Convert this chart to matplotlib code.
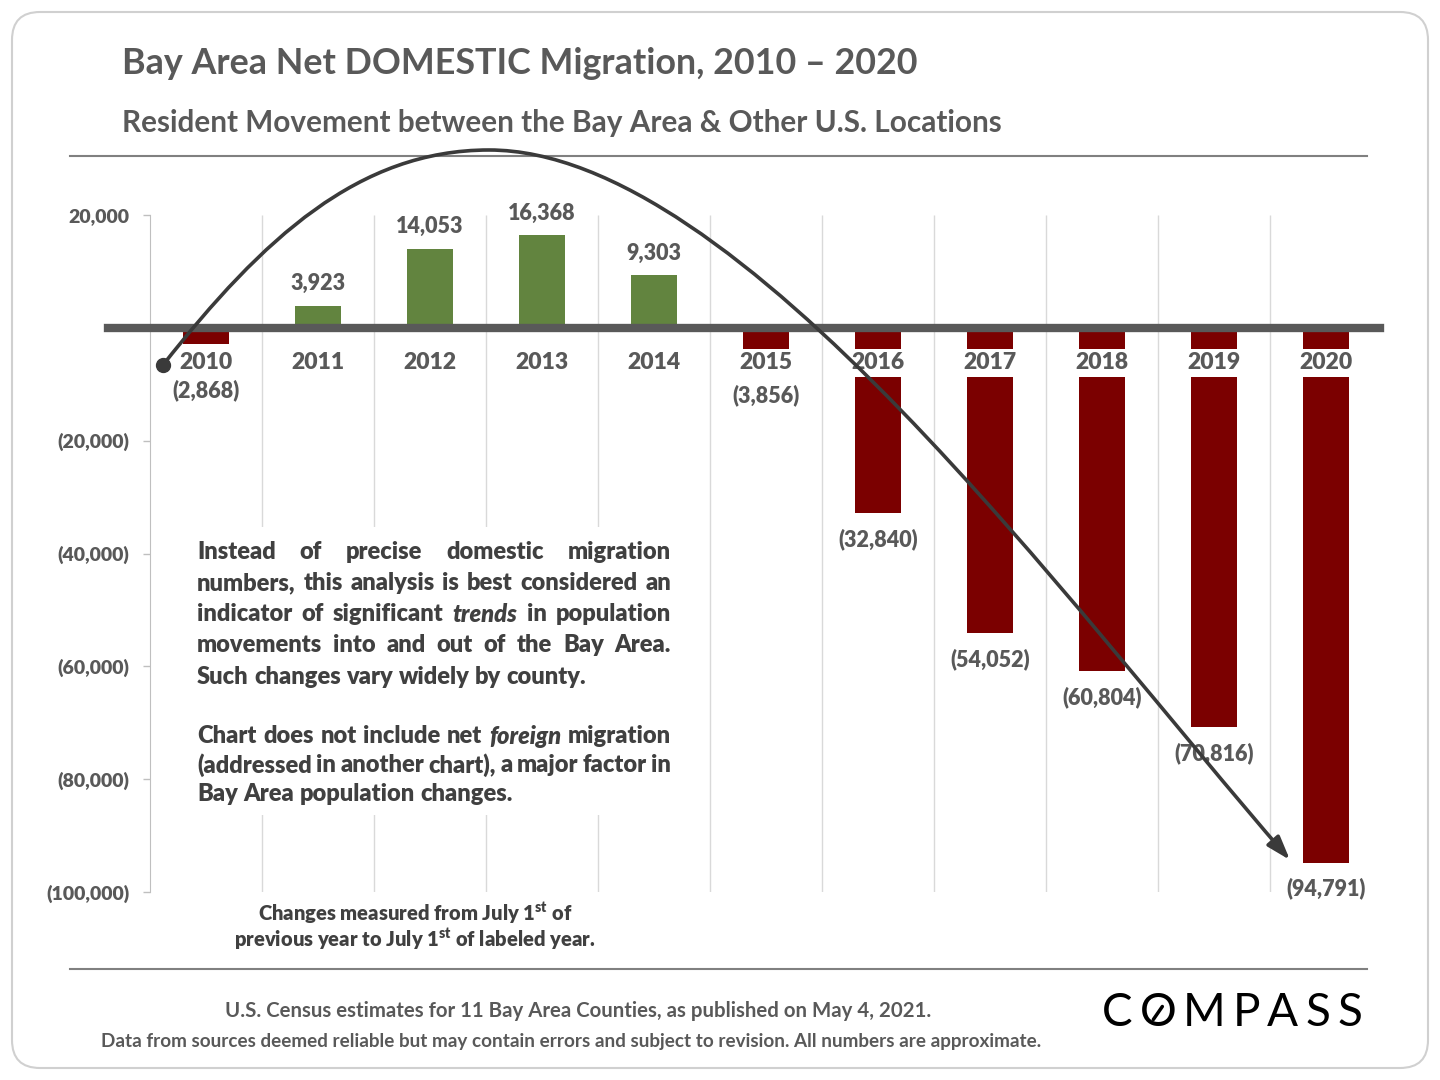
import matplotlib.pyplot as plt
import numpy as np
from matplotlib.patches import FancyBboxPatch, Rectangle, FancyArrowPatch, ArrowStyle
from matplotlib.path import Path
from matplotlib.lines import Line2D

years = ['2010', '2011', '2012', '2013', '2014', '2015',
         '2016', '2017', '2018', '2019', '2020']
migration = [-2868, 3923, 14053, 16368, 9303, -3856,
             -32840, -54052, -60804, -70816, -94791]
y_ticks = [20000, 0, -20000, -40000, -60000, -80000, -100000]

title = "Bay Area Net DOMESTIC Migration, 2010 \u2013 2020"
subtitle = "Resident Movement between the Bay Area & Other U.S. Locations"
para1 = ["Instead of precise domestic migration",
         "numbers, this analysis is best considered an",
         "indicator of significant *trends* in population",
         "movements into and out of the Bay Area.",
         "Such changes vary widely by county."]
para2 = ["Chart does not include net *foreign* migration",
         "(addressed in another chart), a major factor in",
         "Bay Area population changes."]
note1 = r"Changes measured from July 1$^{\mathbf{st}}$ of"
note2 = r"previous year to July 1$^{\mathbf{st}}$ of labeled year."
source1 = "U.S. Census estimates for 11 Bay Area Counties, as published on May 4, 2021."
source2 = ("Data from sources deemed reliable but may contain errors and subject "
           "to revision. All numbers are approximate.")

W, H = 1440, 1080
GRAY = '#595959'
DARK = '#404040'
GREEN = '#62843f'
RED = '#7b0000'
HEAVY = 'heavy'

plt.rcParams['font.family'] = ['Lato', 'DejaVu Sans']
plt.rcParams['mathtext.fontset'] = 'custom'
plt.rcParams['mathtext.rm'] = 'Lato'
plt.rcParams['mathtext.bf'] = 'Lato:heavy'

fig = plt.figure(figsize=(W / 100, H / 100), dpi=100)
renderer = fig.canvas.get_renderer()


def px(x, y):
    return x / W, 1 - y / H


def fig_text(x, y, s, width=None, size=12, **kw):
    t = fig.text(*px(x, y), s, fontsize=size, **kw)
    if width:
        w = t.get_window_extent(renderer).width
        t.set_fontsize(size * width / w)
    return t


# outer frame and rules
fig.add_artist(FancyBboxPatch((12, 12), 1416, 1056,
                              boxstyle='round,pad=0,rounding_size=28',
                              transform=None, fc='none', ec='#d0d0d0', lw=1.5))
for yy in (156, 969):
    fig.add_artist(Line2D([70 / W, 1367 / W], [1 - yy / H] * 2,
                          transform=fig.transFigure, color='#808080', lw=1.5))

fig_text(122, 63, title, width=793, va='center', ha='left',
         fontweight='bold', color=GRAY)
fig_text(122, 123, subtitle, width=876, va='center', ha='left',
         fontweight='bold', color=GRAY)

# chart
ax = fig.add_axes([150 / W, 1 - 892 / H, 1232 / W, 677 / H])
x = np.arange(len(years))
colors = [GREEN if v > 0 else RED for v in migration]
ax.bar(x, migration, width=0.41, color=colors, zorder=2)
ax.vlines(x[:-1] + 0.5, -100000, 20000, color='#d9d9d9', lw=1, zorder=1)
ax.axhline(0, xmin=-0.034, xmax=0.998, color=GRAY, lw=6, clip_on=False, zorder=3)
ax.set_xlim(-0.5, 10.5)
ax.set_ylim(-100000, 20000)

for i, (yr, v) in enumerate(zip(years, migration)):
    ax.annotate(yr, (i, 0), xytext=(0, -35), textcoords='offset pixels',
                ha='center', va='center', fontsize=16.5, fontweight=HEAVY,
                color=GRAY, zorder=4,
                bbox=dict(boxstyle='square,pad=0.15', fc='white', ec='none'))
    if v > 0:
        lbl, off = f'{v:,}', 22
    else:
        lbl = f'({-v:,})'
        off = -46 if v > -10000 else -26
    ax.annotate(lbl, (i, v), xytext=(0, off), textcoords='offset pixels',
                ha='center', va='center', fontsize=15.5, fontweight=HEAVY,
                color=GRAY, zorder=4)

ax.set_yticks(y_ticks)
ax.set_yticklabels(['' if t == 0 else (f'{t:,}' if t > 0 else f'({-t:,})')
                    for t in y_ticks], fontsize=14, fontweight=HEAVY, color=GRAY)
ax.tick_params(axis='y', length=5, width=1, color='#bfbfbf', pad=10)
ax.tick_params(axis='x', bottom=False, labelbottom=False)
for s in ('top', 'right', 'bottom'):
    ax.spines[s].set_visible(False)
ax.spines['left'].set_color('#bfbfbf')

# white box with the notes
fig.add_artist(Rectangle(px(185, 815), 497 / W, 288 / H, transform=fig.transFigure,
                         fc='white', ec='none', zorder=1))

probe = fig.text(0, 0, para1[-1], fontsize=10, fontweight=HEAVY)
psize = 10 * 390 / probe.get_window_extent(renderer).width
probe.remove()
sp1 = fig.text(0, 0, 'a a', fontsize=psize, fontweight=HEAVY)
sp2 = fig.text(0, 0, 'aa', fontsize=psize, fontweight=HEAVY)
space = sp1.get_window_extent(renderer).width - sp2.get_window_extent(renderer).width
sp1.remove()
sp2.remove()


def justify(line, y, x0, x1, last):
    arts = []
    for w in line.split():
        italic = w.startswith('*')
        t = fig.text(*px(x0, y), w.strip('*'), fontsize=psize, fontweight=HEAVY,
                     fontstyle='italic' if italic else 'normal', color=DARK,
                     va='center', ha='left', zorder=3)
        arts.append(t)
    widths = [t.get_window_extent(renderer).width for t in arts]
    gap = space if last else (x1 - x0 - sum(widths)) / (len(arts) - 1)
    xx = x0
    for t, w in zip(arts, widths):
        t.set_x(xx / W)
        xx += w + gap


for k, (line, y) in enumerate(zip(para1, [552, 583, 614, 645, 677])):
    justify(line, y, 197, 671, k == len(para1) - 1)
for k, (line, y) in enumerate(zip(para2, [736, 765, 794])):
    justify(line, y, 197, 671, k == len(para2) - 1)

n2 = fig_text(415, 939, note2, width=362, ha='center', va='center',
              fontweight=HEAVY, color=DARK)
fig_text(415, 913, note1, size=n2.get_fontsize(), ha='center', va='center',
         fontweight=HEAVY, color=DARK)

fig_text(578, 1011, source1, width=704, ha='center', va='center',
         fontweight='bold', color=GRAY)
fig_text(571, 1041, source2, width=932, ha='center', va='center',
         fontweight='bold', color=GRAY)

# COMPASS logo
letters = [fig.text(0, 1 - 1013 / H, ch, fontsize=33, va='center', ha='left',
                    color='black') for ch in 'COMPASS']
lw_ = [t.get_window_extent(renderer).width for t in letters]
gap = (1362 - 1102 - sum(lw_)) / (len(letters) - 1)
xx = 1102
centers = []
for t, w in zip(letters, lw_):
    t.set_x(xx / W)
    centers.append(xx + w / 2)
    xx += w + gap
oc = centers[1]
fig.add_artist(Line2D([(oc - 4.5) / W, (oc + 4.5) / W],
                      [1 - 1019.5 / H, 1 - 1006.5 / H],
                      transform=fig.transFigure, color='black', lw=2.5,
                      solid_capstyle='round'))

# trend arrow
pts = [(163, 365), (263, 238), (359, 150), (489, 150),
       (739, 150), (1070, 607), (1290, 860)]
verts = [px(a, b) for a, b in pts]
codes = [Path.MOVETO] + [Path.CURVE4] * 6
arrow = FancyArrowPatch(path=Path(verts, codes),
                        arrowstyle=ArrowStyle('-|>', head_length=1.2, head_width=0.4),
                        mutation_scale=12, transform=fig.transFigure,
                        color='#3a3a3a', lw=2.6, shrinkA=0, shrinkB=0, zorder=5)
fig.add_artist(arrow)
fig.add_artist(Line2D([163 / W], [1 - 365 / H], transform=fig.transFigure,
                      marker='o', markersize=10, color='#3a3a3a', zorder=5))

fig.savefig('out.png', dpi=100)
